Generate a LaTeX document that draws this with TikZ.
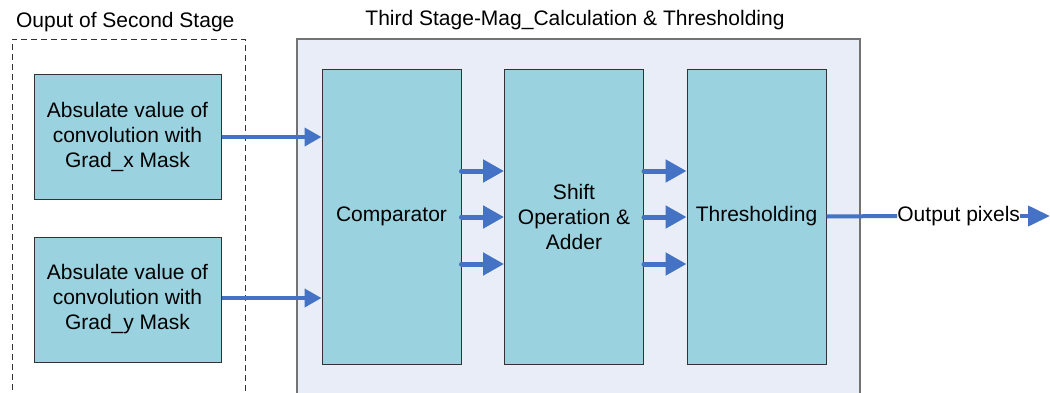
\documentclass[tikz,border=0pt]{standalone}
\usepackage{fontspec}
\setmainfont{Liberation Sans}
\usetikzlibrary{arrows.meta}
\definecolor{blockfill}{HTML}{9BD2DF}
\definecolor{stagefill}{HTML}{E8EDF7}
\definecolor{flow}{HTML}{4472C4}
\begin{document}
\begin{tikzpicture}[x=0.5pt,y=-0.5pt,
  every node/.style={font=\fontsize{10.5}{12.5}\selectfont},
  block/.style={draw=black!80,line width=0.5pt,fill=blockfill,inner sep=0pt,
    minimum width=93.5pt,minimum height=62.5pt,align=center},
  tallblock/.style={draw=black!80,line width=0.5pt,fill=blockfill,inner sep=0pt,
    minimum width=69.5pt,minimum height=147.5pt,align=center},
  inarrow/.style={flow,line width=2pt,-{Triangle[length=8.5pt,width=9pt]}},
  busarrow/.style={flow,line width=2.5pt,line cap=round,-{Triangle[length=10.5pt,width=11pt]}},
  outline/.style={flow,line width=2pt}]
\clip (0,0) rectangle (1050,392);
% stage frames
\draw[black!80,line width=0.5pt,dash pattern=on 3pt off 2pt] (12,400) -- (12,39) -- (245,39) -- (245,400);
\draw[black!55,line width=0.7pt,fill=stagefill] (297,400) -- (297,39) -- (860,39) -- (860,400);
\node[anchor=west] (t1) at (9,22) {Ouput of Second Stage};
\node (t2) at (575,20) {Third Stage-Mag\_Calculation \& Thresholding};
% blocks
\node[block] (gx) at (127.5,136.5) {Absulate value of\\convolution with\\Grad\_x Mask};
\node[block] (gy) at (127.5,299.5) {Absulate value of\\convolution with\\Grad\_y Mask};
\node[tallblock] (cmp) at (391.5,216.5) {\strut Comparator};
\node[tallblock] (sh) at (574,216.5) {Shift\\Operation \&\\Adder};
\node[tallblock] (th) at (756.5,216.5) {\strut Thresholding};
\node[anchor=west,inner sep=0pt] (out) at (897,216) {Output pixels};
\coordinate (end) at (1050,216);
% connectors
\draw[inarrow] (gx.east |- 0,137) -- (cmp.west |- 0,137);
\draw[inarrow] (gy.east |- 0,298) -- (cmp.west |- 0,298);
\foreach \yy in {171,217,264}{
  \draw[busarrow] (cmp.east |- 0,\yy) -- (sh.west |- 0,\yy);
  \draw[busarrow] (sh.east |- 0,\yy) -- (th.west |- 0,\yy);
}
\draw[outline] (th.east) -- (out.west);
\draw[outline,-{Triangle[length=11pt,width=10pt]}] (out.east) -- (end);
\end{tikzpicture}
\end{document}
